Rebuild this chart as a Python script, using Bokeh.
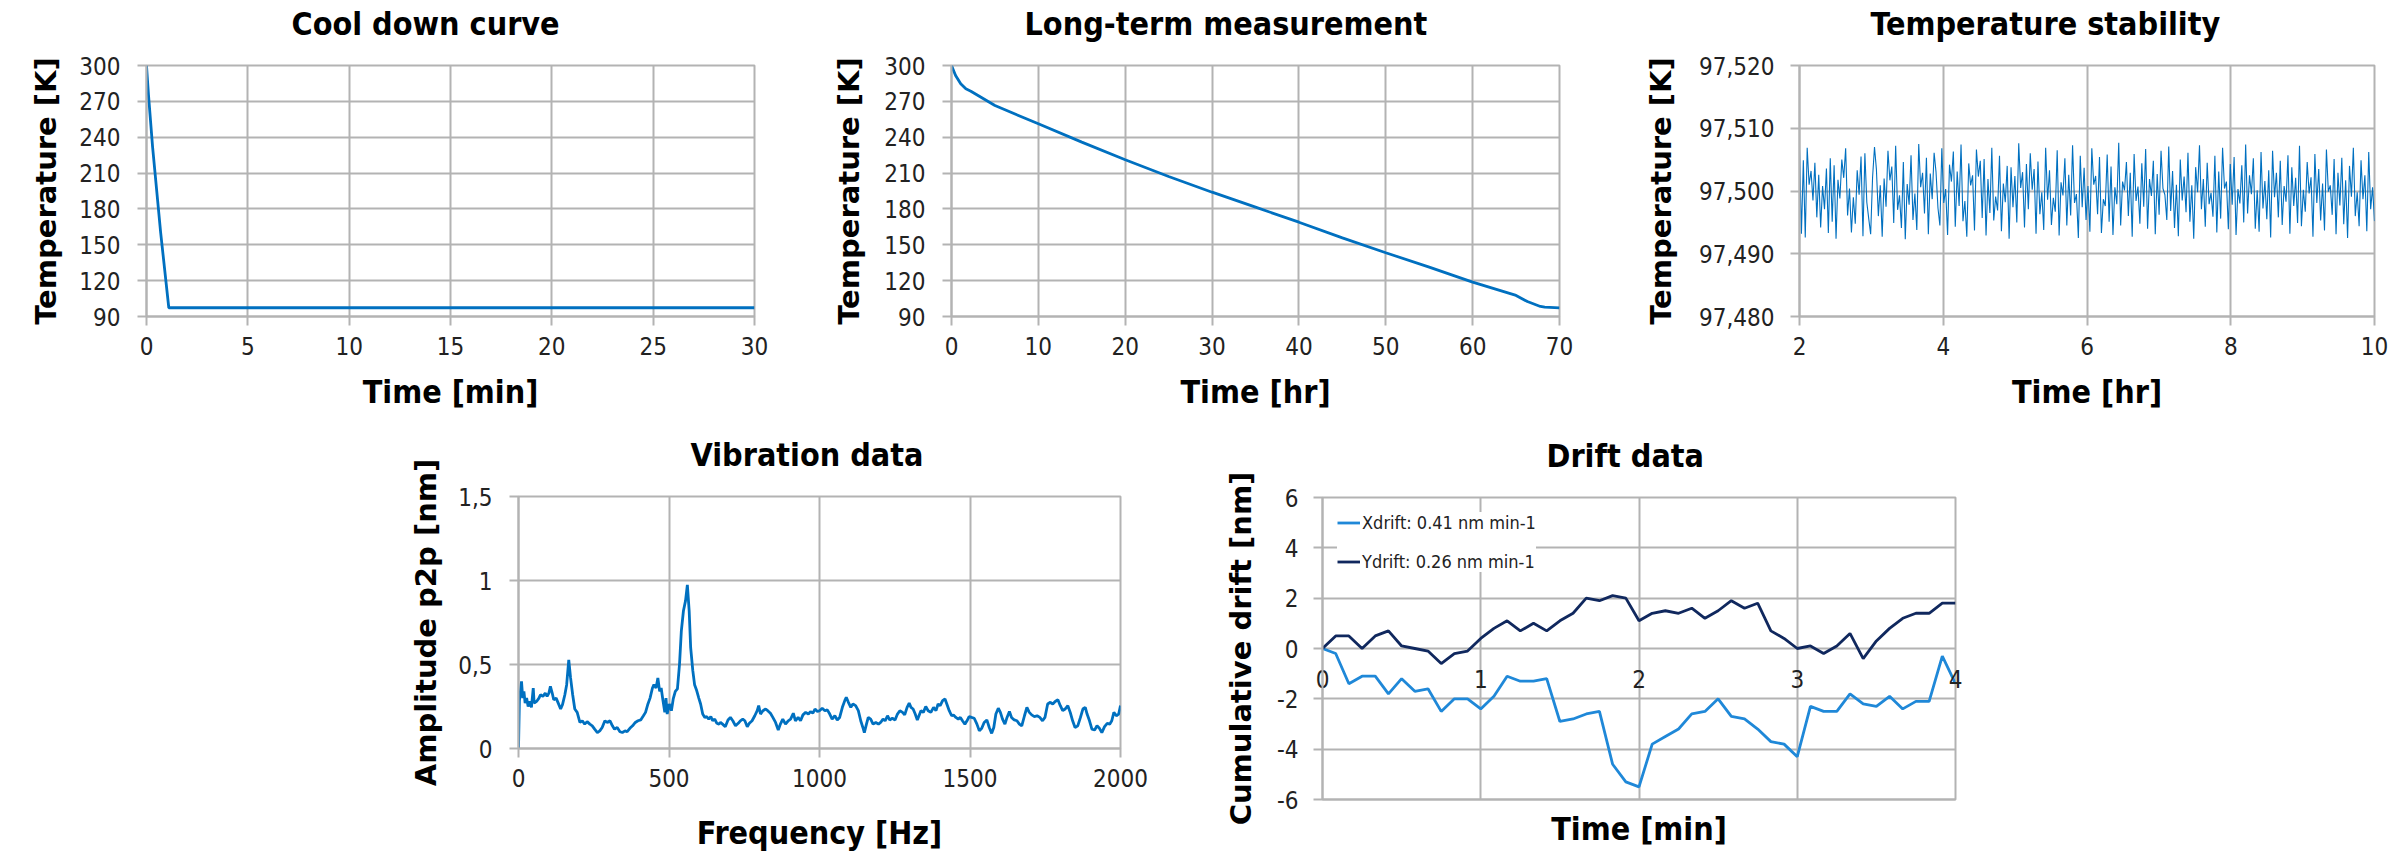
import numpy as np
from bokeh.plotting import figure
from bokeh.layouts import row, column
from bokeh.models import (Range1d, FixedTicker, Title,
                          Legend, LegendItem, Spacer)
from bokeh.embed import file_html
from bokeh.resources import INLINE

# ---------------- data ----------------
cool_time_min = [0, 0.1, 0.3, 0.7, 1.1, 30]
cool_temp_K = [300, 275, 232, 160, 97.3, 97.3]
cool_xticks = [0, 5, 10, 15, 20, 25, 30]
temp_yticks = [90, 120, 150, 180, 210, 240, 270, 300]

long_time_hr = [0, 0.47, 1.06, 1.65, 2.23, 5, 10, 15, 20, 25, 30, 35, 40, 45, 50, 55, 60, 65, 66.3, 67.8, 68.3, 70]
long_temp_K = [300, 291.6, 284.7, 280.5, 278.5, 266.5, 251.2, 235.9, 221.1, 207.1, 194.0, 181.5, 168.9,
               155.8, 143.3, 131.3, 118.7, 107.6, 102.5, 98.4, 97.8, 97.3]
long_xticks = [0, 10, 20, 30, 40, 50, 60, 70]

stab_temp_K = [
    97.5066, 97.4932, 97.5049, 97.4926, 97.5069, 97.5010, 97.5032, 97.4985, 97.5045, 97.4958,
    97.5026, 97.4942, 97.5008, 97.4971, 97.5036, 97.4933, 97.5052, 97.4951, 97.5041, 97.4924,
    97.5018, 97.4988, 97.5050, 97.5021, 97.5068, 97.4961, 97.5004, 97.4934, 97.4990, 97.4948,
    97.5033, 97.4994, 97.5055, 97.4928, 97.5060, 97.4982, 97.4956, 97.4931, 97.5022, 97.5070,
    97.5034, 97.4960, 97.5009, 97.4927, 97.5020, 97.4975, 97.5064, 97.5017, 97.5039, 97.4949,
    97.5072, 97.4970, 97.4993, 97.4941, 97.5046, 97.4923, 97.5011, 97.4978, 97.5057, 97.4954,
    97.4996, 97.4938, 97.5075, 97.5006, 97.5029, 97.4964, 97.5053, 97.4931, 97.5028, 97.4987,
    97.5061, 97.5030, 97.4973, 97.4945, 97.5068, 97.4981, 97.5003, 97.4930, 97.5042, 97.5015,
    97.5063, 97.4943, 97.5031, 97.4976, 97.5074, 97.4952, 97.4984, 97.4927, 97.5044, 97.5009,
    97.5025, 97.4937, 97.5066, 97.5023, 97.5048, 97.4957, 97.5051, 97.4929, 97.5019, 97.4965,
    97.5069, 97.4953, 97.4991, 97.4969, 97.5056, 97.4936, 97.5012, 97.4982, 97.5040, 97.4924,
    97.5038, 97.4974, 97.5024, 97.4950, 97.5076, 97.5005, 97.5030, 97.4942, 97.5043, 97.4971,
    97.5060, 97.5002, 97.5035, 97.4932, 97.5047, 97.4963, 97.4998, 97.4938, 97.5069, 97.4986,
    97.5033, 97.4946, 97.4989, 97.4967, 97.5065, 97.4929, 97.5014, 97.4993, 97.5052, 97.4945,
    97.5026, 97.4961, 97.5073, 97.4981, 97.4995, 97.4925, 97.5056, 97.4974, 97.5037, 97.4954,
    97.5008, 97.4935, 97.5068, 97.5010, 97.5024, 97.4963, 97.5054, 97.4933, 97.4987, 97.4976,
    97.5058, 97.4951, 97.5039, 97.4930, 97.5006, 97.4979, 97.5077, 97.4945, 97.5015, 97.5001,
    97.5046, 97.4960, 97.5029, 97.4927, 97.5059, 97.4984, 97.5007, 97.4948, 97.5044, 97.4975,
    97.5067, 97.4940, 97.5019, 97.4992, 97.5048, 97.4931, 97.5027, 97.4962, 97.5064, 97.5004,
    97.4994, 97.4954, 97.5071, 97.4968, 97.5032, 97.4941, 97.5010, 97.4928, 97.5050, 97.4985,
    97.5023, 97.4966, 97.5061, 97.4951, 97.5009, 97.4924, 97.5038, 97.4998, 97.5073, 97.4971,
    97.5019, 97.4943, 97.5045, 97.4979, 97.4997, 97.4959, 97.5056, 97.4934, 97.5031, 97.4956,
    97.5069, 97.5004, 97.5015, 97.4939, 97.5043, 97.4978, 97.5054, 97.4930, 97.5003, 97.4980,
    97.5041, 97.4950, 97.5074, 97.4964, 97.5025, 97.4995, 97.5052, 97.4940, 97.5001, 97.4935,
    97.5062, 97.4972, 97.5016, 97.4955, 97.5033, 97.4926, 97.5064, 97.4990, 97.5029, 97.4958,
    97.5048, 97.4946, 97.5008, 97.4983, 97.5057, 97.4932, 97.5038, 97.4976, 97.5021, 97.4949,
    97.5072, 97.4944, 97.5002, 97.4967, 97.5046, 97.4996, 97.5022, 97.4927, 97.5059, 97.4981,
    97.5035, 97.4953, 97.5012, 97.4937, 97.5066, 97.4999, 97.5009, 97.4962, 97.5051, 97.4931,
    97.5029, 97.4977, 97.5053, 97.4947, 97.5017, 97.4925, 97.5040, 97.4991, 97.5069, 97.4960,
    97.4998, 97.4944, 97.5049, 97.4987, 97.5025, 97.4936, 97.5062, 97.4971, 97.5006, 97.4952,
]
stab_time_hr = np.linspace(2, 10, len(stab_temp_K))
stab_xticks = [2, 4, 6, 8, 10]
stab_yticks = [97.48, 97.49, 97.50, 97.51, 97.52]
stab_ylabels = ["97,480", "97,490", "97,500", "97,510", "97,520"]

vib_freq_hz = [
    0, 3, 10, 14, 18, 22, 27, 32, 38, 43, 49, 52, 60, 68, 73, 81, 89, 95, 101, 106,
    112, 117, 125, 132, 140, 146, 154, 160, 167, 173, 180, 187, 195, 204, 212, 220, 228, 237, 245, 253,
    262, 270, 278, 287, 295, 304, 312, 319, 328, 337, 345, 354, 361, 370, 379, 388, 397, 406, 415, 422,
    430, 437, 445, 450, 457, 463, 469, 474, 480, 486, 490, 494, 501, 508, 514, 521, 528, 535, 541, 548,
    555, 561, 567, 572, 579, 585, 592, 599, 605, 612, 619, 625, 632, 639, 645, 652, 659, 666,
    671, 678, 687, 696, 704, 712, 721, 730, 737, 745, 752, 760, 767, 776, 785, 793, 798, 804, 812, 821,
    828, 837, 845, 854, 863, 870, 878, 887, 896, 904, 913, 920, 929, 937, 945, 954, 963, 970, 978, 985,
    993, 1000, 1009, 1018, 1026, 1034, 1042, 1051, 1059, 1067, 1076, 1084, 1089, 1096, 1104, 1111, 1120, 1129, 1137, 1145,
    1149, 1156, 1162, 1170, 1178, 1187, 1196, 1203, 1211, 1218, 1226, 1233, 1242, 1251, 1259, 1267, 1276, 1283, 1291, 1298,
    1304, 1311, 1318, 1325,
    1337, 1345, 1353, 1361, 1370, 1379, 1387, 1394, 1401, 1409, 1417, 1423, 1431, 1439, 1445, 1453, 1461, 1468, 1475, 1483,
    1490, 1497, 1505, 1514, 1523, 1531, 1539, 1547, 1556, 1564, 1572, 1579, 1586, 1594, 1601, 1608, 1616, 1623, 1631, 1638,
    1647, 1656, 1664, 1672, 1681, 1689, 1697, 1705, 1714, 1723, 1732, 1741, 1749, 1758, 1767, 1775, 1783, 1792, 1800, 1808,
    1816, 1825, 1833, 1841, 1849, 1858, 1867, 1875, 1883, 1889, 1897, 1905, 1914, 1922, 1930, 1938, 1947, 1956, 1964, 1971,
    1978, 1986, 1994, 2000,
]
vib_amp_nm = [
    0, 0.284, 0.40, 0.30, 0.34, 0.27, 0.30, 0.25, 0.28, 0.245, 0.36, 0.27, 0.28, 0.30, 0.32, 0.31, 0.33, 0.31, 0.33, 0.37,
    0.33, 0.29, 0.30, 0.27, 0.235, 0.26, 0.32, 0.38, 0.527, 0.42, 0.32, 0.235, 0.215, 0.155, 0.165, 0.145, 0.16, 0.145, 0.135, 0.115,
    0.095, 0.105, 0.125, 0.165, 0.155, 0.165, 0.135, 0.115, 0.125, 0.10, 0.095, 0.105, 0.10, 0.12, 0.135, 0.155, 0.165, 0.17, 0.195, 0.215,
    0.265, 0.30, 0.36, 0.38, 0.36, 0.42, 0.34, 0.36, 0.285, 0.215, 0.30, 0.205, 0.265, 0.225, 0.295, 0.34, 0.355, 0.503, 0.70, 0.82,
    0.88, 0.974, 0.82, 0.60, 0.465, 0.38, 0.345, 0.30, 0.265, 0.205, 0.185, 0.19, 0.175, 0.19, 0.165, 0.175, 0.15, 0.145,
    0.155, 0.145, 0.13, 0.17, 0.185, 0.165, 0.135, 0.15, 0.165, 0.175, 0.165, 0.13, 0.15, 0.165, 0.195, 0.225, 0.255, 0.205, 0.225, 0.235,
    0.225, 0.21, 0.185, 0.155, 0.11, 0.145, 0.175, 0.145, 0.165, 0.175, 0.21, 0.165, 0.185, 0.165, 0.20, 0.215, 0.205, 0.22, 0.21, 0.235,
    0.22, 0.225, 0.24, 0.225, 0.23, 0.205, 0.175, 0.195, 0.17, 0.185, 0.245, 0.285, 0.305, 0.275, 0.245, 0.265, 0.255, 0.225, 0.165, 0.12,
    0.095, 0.145, 0.185, 0.175, 0.145, 0.155, 0.145, 0.155, 0.175, 0.165, 0.195, 0.17, 0.18, 0.17, 0.205, 0.225, 0.215, 0.20, 0.245, 0.27,
    0.245, 0.235, 0.205, 0.17,
    0.225, 0.215, 0.25, 0.225, 0.215, 0.245, 0.225, 0.265, 0.255, 0.285, 0.295, 0.265, 0.225, 0.195, 0.20, 0.185, 0.175, 0.185, 0.165, 0.145,
    0.165, 0.19, 0.185, 0.18, 0.145, 0.105, 0.12, 0.155, 0.17, 0.125, 0.09, 0.125, 0.205, 0.24, 0.215, 0.175, 0.145, 0.185, 0.22, 0.185,
    0.17, 0.165, 0.145, 0.135, 0.195, 0.245, 0.215, 0.20, 0.19, 0.195, 0.185, 0.165, 0.185, 0.265, 0.275, 0.265, 0.28, 0.29, 0.255, 0.225,
    0.235, 0.255, 0.215, 0.165, 0.125, 0.135, 0.185, 0.235, 0.245, 0.205, 0.165, 0.115, 0.11, 0.135, 0.12, 0.095, 0.13, 0.15, 0.145, 0.165,
    0.215, 0.195, 0.205, 0.255,
]
vib_xticks = [0, 500, 1000, 1500, 2000]
vib_yticks = [0, 0.5, 1, 1.5]
vib_ylabels = ["0", "0,5", "1", "1,5"]

drift_time_min = np.linspace(0, 4, 49)
xdrift_nm = [0, -0.2, -1.4, -1.1, -1.1, -1.8, -1.2, -1.7, -1.6, -2.5, -2.0, -2.0, -2.4, -1.9, -1.1, -1.3, -1.3,
             -1.2, -2.9, -2.8, -2.6, -2.5, -4.6, -5.3, -5.5, -3.8, -3.5, -3.2, -2.6, -2.5, -2.0, -2.7, -2.8,
             -3.2, -3.7, -3.8, -4.3, -2.3, -2.5, -2.5, -1.8, -2.2, -2.3, -1.9, -2.4, -2.1, -2.1, -0.3, -1.4]
ydrift_nm = [0, 0.5, 0.5, 0, 0.5, 0.7, 0.1, 0.0, -0.1, -0.6, -0.2, -0.1, 0.4, 0.8, 1.1, 0.7, 1.0,
             0.7, 1.1, 1.4, 2.0, 1.9, 2.1, 2.0, 1.1, 1.4, 1.5, 1.4, 1.6, 1.2, 1.5, 1.9, 1.6,
             1.8, 0.7, 0.4, 0.0, 0.1, -0.2, 0.1, 0.6, -0.4, 0.3, 0.8, 1.2, 1.4, 1.4, 1.8, 1.8]
drift_series = ["Xdrift: 0.41 nm min-1", "Ydrift: 0.26 nm min-1"]
drift_xticks = [0, 1, 2, 3, 4]
drift_xlabels = ["0", "1", "2", "3", "4"]
drift_yticks = [-6, -4, -2, 0, 2, 4, 6]
drift_ylabels = ["-6", "-4", "-2", "0", "2", "4", "6"]

titles = ["Cool down curve", "Long-term measurement", "Temperature stability", "Vibration data", "Drift data"]

# ---------------- style ----------------
COND = "DejaVu Sans Condensed"
WIDE = "DejaVu Sans"
BLUE = "#0070C0"
XBLUE = "#1F88D8"
NAVY = "#10285E"
GRID = "#B3B3B3"
TXT = "#222222"


def make_fig(w, h, mbl, mbr, mbt, mbb, xr, yr):
    p = figure(width=w, height=h, x_range=Range1d(*xr), y_range=Range1d(*yr),
               output_backend="svg", toolbar_location=None,
               min_border_left=mbl, min_border_right=mbr, min_border_top=mbt, min_border_bottom=mbb)
    p.background_fill_color = "white"
    p.border_fill_color = "white"
    p.outline_line_color = GRID
    p.outline_line_width = 2
    for g in (p.xgrid[0], p.ygrid[0]):
        g.grid_line_color = GRID
        g.grid_line_width = 2
    return p


def style_axis(ax, grid, ticks, labels, title, lab_standoff, title_standoff, title_font, title_size):
    tk = FixedTicker(ticks=ticks)
    ax.ticker = tk
    grid.ticker = tk
    if labels is not None:
        ax.major_label_overrides = {t: l for t, l in zip(ticks, labels)}
    ax.major_label_text_font = COND
    ax.major_label_text_font_size = "24px"
    ax.major_label_text_color = TXT
    ax.major_label_standoff = lab_standoff
    ax.major_tick_out = 9
    ax.major_tick_in = 0
    ax.minor_tick_out = 0
    ax.minor_tick_in = 0
    ax.major_tick_line_color = GRID
    ax.major_tick_line_width = 2
    ax.axis_line_color = GRID
    ax.axis_line_width = 2
    ax.axis_label = title
    ax.axis_label_text_font = title_font
    ax.axis_label_text_font_style = "bold"
    ax.axis_label_text_font_size = title_size
    ax.axis_label_text_color = "black"
    ax.axis_label_standoff = title_standoff


def add_title(p, text, left_offset, gap=18):
    # blank spacer between frame and title, then the title itself
    p.add_layout(Title(text=" ", text_font_size="2px", standoff=gap), "above")
    p.add_layout(Title(text=text, align="left", offset=left_offset, standoff=2, vertical_align="bottom",
                       text_font=COND, text_font_style="bold", text_font_size="32px",
                       text_color="black"), "above")


# ---- Chart 1: cool down ----
f1 = make_fig(814, 420, 146, 60, 65, 104, (0, 30), (90, 300))
f1.line(cool_time_min, cool_temp_K, line_color=BLUE, line_width=2.8)
style_axis(f1.xaxis[0], f1.xgrid[0], cool_xticks, None, "Time [min]", 11, 15, COND, "32px")
style_axis(f1.yaxis[0], f1.ygrid[0], temp_yticks, None, "Temperature [K]", 17, 13, WIDE, "29px")
add_title(f1, titles[0], 145)

# ---- Chart 2: long-term ----
f2 = make_fig(795, 420, 137, 50, 65, 104, (0, 70), (90, 300))
f2.line(long_time_hr, long_temp_K, line_color=BLUE, line_width=2.8)
style_axis(f2.xaxis[0], f2.xgrid[0], long_xticks, None, "Time [hr]", 11, 15, COND, "32px")
style_axis(f2.yaxis[0], f2.ygrid[0], temp_yticks, None, "Temperature [K]", 17, 15, WIDE, "29px")
add_title(f2, titles[1], 73)

# ---- Chart 3: stability ----
f3 = make_fig(791, 420, 190, 26, 65, 104, (2, 10), (97.48, 97.52))
f3.line(stab_time_hr, stab_temp_K, line_color=BLUE, line_width=1.1)
style_axis(f3.xaxis[0], f3.xgrid[0], stab_xticks, None, "Time [hr]", 11, 15, COND, "32px")
style_axis(f3.yaxis[0], f3.ygrid[0], stab_yticks, stab_ylabels, "Temperature [K]", 16, 18, WIDE, "29px")
add_title(f3, titles[2], 71)

# ---- Chart 4: vibration ----
f4 = make_fig(812, 438, 138, 72, 76, 110, (0, 2000), (0, 1.5))
f4.line(vib_freq_hz, vib_amp_nm, line_color=BLUE, line_width=2.8)
style_axis(f4.xaxis[0], f4.xgrid[0], vib_xticks, None, "Frequency [Hz]", 11, 24, COND, "32px")
style_axis(f4.yaxis[0], f4.ygrid[0], vib_yticks, vib_ylabels, "Amplitude p2p [nm]", 17, 12, WIDE, "29px")
add_title(f4, titles[3], 172)

# ---- Chart 5: drift ----
f5 = make_fig(808, 438, 130, 45, 77, 59, (0, 4), (-6, 6))
r_x = f5.line(drift_time_min, xdrift_nm, line_color=XBLUE, line_width=2.8)
r_y = f5.line(drift_time_min, ydrift_nm, line_color=NAVY, line_width=2.8)
xa = f5.xaxis[0]
# tick labels are lifted up to sit just under the y = 0 line (the chart's crossing axis)
style_axis(xa, f5.xgrid[0], drift_xticks, drift_xlabels, "Time [min]", -130, 119, COND, "32px")
xa.major_tick_out = 0
style_axis(f5.yaxis[0], f5.ygrid[0], drift_yticks, drift_ylabels, "Cumulative drift [nm]", 15, 16, WIDE, "29px")
leg = Legend(items=[LegendItem(label=drift_series[0], renderers=[r_x]),
                    LegendItem(label=drift_series[1], renderers=[r_y])],
             location="top_left", margin=15, padding=13, spacing=18,
             label_height=21, glyph_height=21, glyph_width=23, label_standoff=2,
             label_text_font=COND, label_text_font_size="18px", label_text_color=TXT,
             background_fill_color="white", background_fill_alpha=1.0, border_line_color=None)
f5.add_layout(leg)
add_title(f5, titles[4], 224)

layout = column(row(f1, f2, f3), row(Spacer(width=380, height=438), f4, column(f5)))
open("out.html", "w").write(file_html(layout, INLINE, "Charts"))
